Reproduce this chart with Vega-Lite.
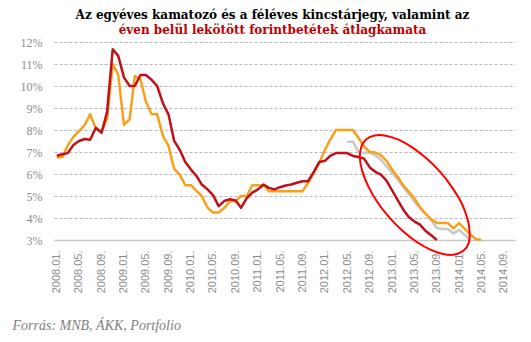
{
  "$schema": "https://vega.github.io/schema/vega-lite/v6.json",
  "width": 461,
  "height": 198,
  "autosize": "none",
  "padding": {"left": 54, "top": 42, "right": 16, "bottom": 102},
  "background": "white",
  "title": {
    "text": "Az egyéves kamatozó és a féléves kincstárjegy, valamint az",
    "subtitle": "éven belül lekötött forintbetétek  átlagkamata",
    "font": "DejaVu Serif",
    "fontSize": 12,
    "fontWeight": "bold",
    "color": "#000000",
    "subtitleFont": "DejaVu Serif",
    "subtitleFontSize": 12,
    "subtitleFontWeight": "bold",
    "subtitleColor": "#c00000",
    "subtitlePadding": 3,
    "anchor": "middle",
    "frame": "group",
    "dx": -12,
    "offset": -1
  },
  "config": {"view": {"stroke": null}},
  "datasets": {
    "rates": [
      {"date": "2012-05-01", "series": "féléves", "value": 7.47},
      {"date": "2012-06-01", "series": "féléves", "value": 7.47},
      {"date": "2012-07-01", "series": "féléves", "value": 7.0},
      {"date": "2012-08-01", "series": "féléves", "value": 6.97},
      {"date": "2012-09-01", "series": "féléves", "value": 6.97},
      {"date": "2012-10-01", "series": "féléves", "value": 6.85},
      {"date": "2012-11-01", "series": "féléves", "value": 6.65},
      {"date": "2012-12-01", "series": "féléves", "value": 6.35},
      {"date": "2013-01-01", "series": "féléves", "value": 6.05},
      {"date": "2013-02-01", "series": "féléves", "value": 5.75},
      {"date": "2013-03-01", "series": "féléves", "value": 5.42},
      {"date": "2013-04-01", "series": "féléves", "value": 5.1},
      {"date": "2013-05-01", "series": "féléves", "value": 4.75},
      {"date": "2013-06-01", "series": "féléves", "value": 4.45},
      {"date": "2013-07-01", "series": "féléves", "value": 4.2},
      {"date": "2013-08-01", "series": "féléves", "value": 3.9},
      {"date": "2013-09-01", "series": "féléves", "value": 3.55},
      {"date": "2013-10-01", "series": "féléves", "value": 3.5},
      {"date": "2013-11-01", "series": "féléves", "value": 3.5},
      {"date": "2013-12-01", "series": "féléves", "value": 3.3},
      {"date": "2014-01-01", "series": "féléves", "value": 3.46},
      {"date": "2014-02-01", "series": "féléves", "value": 3.22},
      {"date": "2014-03-01", "series": "féléves", "value": 3.0},
      {"date": "2008-01-01", "series": "egyéves", "value": 6.75},
      {"date": "2008-02-01", "series": "egyéves", "value": 6.77},
      {"date": "2008-03-01", "series": "egyéves", "value": 7.3},
      {"date": "2008-04-01", "series": "egyéves", "value": 7.7},
      {"date": "2008-05-01", "series": "egyéves", "value": 7.95},
      {"date": "2008-06-01", "series": "egyéves", "value": 8.22},
      {"date": "2008-07-01", "series": "egyéves", "value": 8.72},
      {"date": "2008-08-01", "series": "egyéves", "value": 8.05},
      {"date": "2008-09-01", "series": "egyéves", "value": 7.93},
      {"date": "2008-10-01", "series": "egyéves", "value": 8.5},
      {"date": "2008-11-01", "series": "egyéves", "value": 11.0},
      {"date": "2008-12-01", "series": "egyéves", "value": 10.5},
      {"date": "2009-01-01", "series": "egyéves", "value": 8.23},
      {"date": "2009-02-01", "series": "egyéves", "value": 8.48},
      {"date": "2009-03-01", "series": "egyéves", "value": 10.45},
      {"date": "2009-04-01", "series": "egyéves", "value": 10.3},
      {"date": "2009-05-01", "series": "egyéves", "value": 9.27},
      {"date": "2009-06-01", "series": "egyéves", "value": 8.72},
      {"date": "2009-07-01", "series": "egyéves", "value": 8.72},
      {"date": "2009-08-01", "series": "egyéves", "value": 7.73},
      {"date": "2009-09-01", "series": "egyéves", "value": 7.28},
      {"date": "2009-10-01", "series": "egyéves", "value": 6.24},
      {"date": "2009-11-01", "series": "egyéves", "value": 5.97},
      {"date": "2009-12-01", "series": "egyéves", "value": 5.49},
      {"date": "2010-01-01", "series": "egyéves", "value": 5.49},
      {"date": "2010-02-01", "series": "egyéves", "value": 5.22},
      {"date": "2010-03-01", "series": "egyéves", "value": 5.0},
      {"date": "2010-04-01", "series": "egyéves", "value": 4.47},
      {"date": "2010-05-01", "series": "egyéves", "value": 4.25},
      {"date": "2010-06-01", "series": "egyéves", "value": 4.25},
      {"date": "2010-07-01", "series": "egyéves", "value": 4.45},
      {"date": "2010-08-01", "series": "egyéves", "value": 4.75},
      {"date": "2010-09-01", "series": "egyéves", "value": 4.77},
      {"date": "2010-10-01", "series": "egyéves", "value": 5.0},
      {"date": "2010-11-01", "series": "egyéves", "value": 5.0},
      {"date": "2010-12-01", "series": "egyéves", "value": 5.49},
      {"date": "2011-01-01", "series": "egyéves", "value": 5.49},
      {"date": "2011-02-01", "series": "egyéves", "value": 5.49},
      {"date": "2011-03-01", "series": "egyéves", "value": 5.22},
      {"date": "2011-04-01", "series": "egyéves", "value": 5.22},
      {"date": "2011-05-01", "series": "egyéves", "value": 5.22},
      {"date": "2011-06-01", "series": "egyéves", "value": 5.22},
      {"date": "2011-07-01", "series": "egyéves", "value": 5.22},
      {"date": "2011-08-01", "series": "egyéves", "value": 5.22},
      {"date": "2011-09-01", "series": "egyéves", "value": 5.22},
      {"date": "2011-10-01", "series": "egyéves", "value": 5.6},
      {"date": "2011-11-01", "series": "egyéves", "value": 6.05},
      {"date": "2011-12-01", "series": "egyéves", "value": 6.5},
      {"date": "2012-01-01", "series": "egyéves", "value": 7.1},
      {"date": "2012-02-01", "series": "egyéves", "value": 7.6},
      {"date": "2012-03-01", "series": "egyéves", "value": 8.0},
      {"date": "2012-04-01", "series": "egyéves", "value": 8.0},
      {"date": "2012-05-01", "series": "egyéves", "value": 8.0},
      {"date": "2012-06-01", "series": "egyéves", "value": 8.0},
      {"date": "2012-07-01", "series": "egyéves", "value": 7.65},
      {"date": "2012-08-01", "series": "egyéves", "value": 7.25},
      {"date": "2012-09-01", "series": "egyéves", "value": 7.0},
      {"date": "2012-10-01", "series": "egyéves", "value": 6.98},
      {"date": "2012-11-01", "series": "egyéves", "value": 6.85},
      {"date": "2012-12-01", "series": "egyéves", "value": 6.6},
      {"date": "2013-01-01", "series": "egyéves", "value": 6.2},
      {"date": "2013-02-01", "series": "egyéves", "value": 5.85},
      {"date": "2013-03-01", "series": "egyéves", "value": 5.5},
      {"date": "2013-04-01", "series": "egyéves", "value": 5.2},
      {"date": "2013-05-01", "series": "egyéves", "value": 4.9},
      {"date": "2013-06-01", "series": "egyéves", "value": 4.5},
      {"date": "2013-07-01", "series": "egyéves", "value": 4.2},
      {"date": "2013-08-01", "series": "egyéves", "value": 3.95},
      {"date": "2013-09-01", "series": "egyéves", "value": 3.77},
      {"date": "2013-10-01", "series": "egyéves", "value": 3.77},
      {"date": "2013-11-01", "series": "egyéves", "value": 3.77},
      {"date": "2013-12-01", "series": "egyéves", "value": 3.53},
      {"date": "2014-01-01", "series": "egyéves", "value": 3.77},
      {"date": "2014-02-01", "series": "egyéves", "value": 3.5},
      {"date": "2014-03-01", "series": "egyéves", "value": 3.25},
      {"date": "2014-04-01", "series": "egyéves", "value": 3.05},
      {"date": "2014-05-01", "series": "egyéves", "value": 3.0},
      {"date": "2008-01-01", "series": "forintbetétek", "value": 6.83},
      {"date": "2008-02-01", "series": "forintbetétek", "value": 6.9},
      {"date": "2008-03-01", "series": "forintbetétek", "value": 6.95},
      {"date": "2008-04-01", "series": "forintbetétek", "value": 7.32},
      {"date": "2008-05-01", "series": "forintbetétek", "value": 7.5},
      {"date": "2008-06-01", "series": "forintbetétek", "value": 7.59},
      {"date": "2008-07-01", "series": "forintbetétek", "value": 7.56},
      {"date": "2008-08-01", "series": "forintbetétek", "value": 8.1},
      {"date": "2008-09-01", "series": "forintbetétek", "value": 7.87},
      {"date": "2008-10-01", "series": "forintbetétek", "value": 8.82},
      {"date": "2008-11-01", "series": "forintbetétek", "value": 11.67},
      {"date": "2008-12-01", "series": "forintbetétek", "value": 11.37},
      {"date": "2009-01-01", "series": "forintbetétek", "value": 10.39},
      {"date": "2009-02-01", "series": "forintbetétek", "value": 10.0},
      {"date": "2009-03-01", "series": "forintbetétek", "value": 10.0},
      {"date": "2009-04-01", "series": "forintbetétek", "value": 10.5},
      {"date": "2009-05-01", "series": "forintbetétek", "value": 10.5},
      {"date": "2009-06-01", "series": "forintbetétek", "value": 10.28},
      {"date": "2009-07-01", "series": "forintbetétek", "value": 10.0},
      {"date": "2009-08-01", "series": "forintbetétek", "value": 9.22},
      {"date": "2009-09-01", "series": "forintbetétek", "value": 8.7},
      {"date": "2009-10-01", "series": "forintbetétek", "value": 7.52},
      {"date": "2009-11-01", "series": "forintbetétek", "value": 7.1},
      {"date": "2009-12-01", "series": "forintbetétek", "value": 6.55},
      {"date": "2010-01-01", "series": "forintbetétek", "value": 6.2},
      {"date": "2010-02-01", "series": "forintbetétek", "value": 5.9},
      {"date": "2010-03-01", "series": "forintbetétek", "value": 5.52},
      {"date": "2010-04-01", "series": "forintbetétek", "value": 5.3},
      {"date": "2010-05-01", "series": "forintbetétek", "value": 5.04},
      {"date": "2010-06-01", "series": "forintbetétek", "value": 4.54},
      {"date": "2010-07-01", "series": "forintbetétek", "value": 4.77},
      {"date": "2010-08-01", "series": "forintbetétek", "value": 4.85},
      {"date": "2010-09-01", "series": "forintbetétek", "value": 4.8},
      {"date": "2010-10-01", "series": "forintbetétek", "value": 4.47},
      {"date": "2010-11-01", "series": "forintbetétek", "value": 4.9},
      {"date": "2010-12-01", "series": "forintbetétek", "value": 5.15},
      {"date": "2011-01-01", "series": "forintbetétek", "value": 5.3},
      {"date": "2011-02-01", "series": "forintbetétek", "value": 5.52},
      {"date": "2011-03-01", "series": "forintbetétek", "value": 5.37},
      {"date": "2011-04-01", "series": "forintbetétek", "value": 5.3},
      {"date": "2011-05-01", "series": "forintbetétek", "value": 5.4},
      {"date": "2011-06-01", "series": "forintbetétek", "value": 5.48},
      {"date": "2011-07-01", "series": "forintbetétek", "value": 5.52},
      {"date": "2011-08-01", "series": "forintbetétek", "value": 5.6},
      {"date": "2011-09-01", "series": "forintbetétek", "value": 5.67},
      {"date": "2011-10-01", "series": "forintbetétek", "value": 5.67},
      {"date": "2011-11-01", "series": "forintbetétek", "value": 6.1},
      {"date": "2011-12-01", "series": "forintbetétek", "value": 6.55},
      {"date": "2012-01-01", "series": "forintbetétek", "value": 6.6},
      {"date": "2012-02-01", "series": "forintbetétek", "value": 6.84},
      {"date": "2012-03-01", "series": "forintbetétek", "value": 6.95},
      {"date": "2012-04-01", "series": "forintbetétek", "value": 6.95},
      {"date": "2012-05-01", "series": "forintbetétek", "value": 6.95},
      {"date": "2012-06-01", "series": "forintbetétek", "value": 6.82},
      {"date": "2012-07-01", "series": "forintbetétek", "value": 6.77},
      {"date": "2012-08-01", "series": "forintbetétek", "value": 6.7},
      {"date": "2012-09-01", "series": "forintbetétek", "value": 6.3},
      {"date": "2012-10-01", "series": "forintbetétek", "value": 6.1},
      {"date": "2012-11-01", "series": "forintbetétek", "value": 5.97},
      {"date": "2012-12-01", "series": "forintbetétek", "value": 5.7},
      {"date": "2013-01-01", "series": "forintbetétek", "value": 5.25},
      {"date": "2013-02-01", "series": "forintbetétek", "value": 4.8},
      {"date": "2013-03-01", "series": "forintbetétek", "value": 4.4},
      {"date": "2013-04-01", "series": "forintbetétek", "value": 4.05},
      {"date": "2013-05-01", "series": "forintbetétek", "value": 3.85},
      {"date": "2013-06-01", "series": "forintbetétek", "value": 3.7},
      {"date": "2013-07-01", "series": "forintbetétek", "value": 3.42},
      {"date": "2013-08-01", "series": "forintbetétek", "value": 3.22},
      {"date": "2013-09-01", "series": "forintbetétek", "value": 3.0}
    ],
    "ellipse": [
      {"i": 0, "date": "2014-01-25", "value": 2.52},
      {"i": 1, "date": "2013-12-10", "value": 2.34},
      {"i": 2, "date": "2013-10-11", "value": 2.35},
      {"i": 3, "date": "2013-07-31", "value": 2.55},
      {"i": 4, "date": "2013-05-15", "value": 2.91},
      {"i": 5, "date": "2013-02-26", "value": 3.42},
      {"i": 6, "date": "2012-12-15", "value": 4.04},
      {"i": 7, "date": "2012-10-12", "value": 4.73},
      {"i": 8, "date": "2012-08-24", "value": 5.44},
      {"i": 9, "date": "2012-07-22", "value": 6.13},
      {"i": 10, "date": "2012-07-09", "value": 6.74},
      {"i": 11, "date": "2012-07-17", "value": 7.23},
      {"i": 12, "date": "2012-08-13", "value": 7.58},
      {"i": 13, "date": "2012-09-28", "value": 7.75},
      {"i": 14, "date": "2012-11-27", "value": 7.74},
      {"i": 15, "date": "2013-02-07", "value": 7.55},
      {"i": 16, "date": "2013-04-24", "value": 7.19},
      {"i": 17, "date": "2013-07-11", "value": 6.68},
      {"i": 18, "date": "2013-09-23", "value": 6.06},
      {"i": 19, "date": "2013-11-26", "value": 5.36},
      {"i": 20, "date": "2014-01-15", "value": 4.66},
      {"i": 21, "date": "2014-02-15", "value": 3.97},
      {"i": 22, "date": "2014-02-27", "value": 3.36},
      {"i": 23, "date": "2014-02-22", "value": 2.86}
    ]
  },
  "encoding": {
    "y": {
      "field": "value",
      "type": "quantitative",
      "scale": {"domain": [3, 12], "zero": false, "nice": false},
      "axis": {
        "values": [3, 4, 5, 6, 7, 8, 9, 10, 11, 12],
        "labelExpr": "datum.value + '%'",
        "labelFont": "Liberation Serif",
        "labelFontSize": 12,
        "labelColor": "#8c8c8c",
        "labelPadding": 12,
        "labelOverlap": false,
        "labelFlush": false,
        "ticks": false,
        "domain": false,
        "grid": true,
        "gridColor": "#b8b8b8",
        "gridDash": [3, 2],
        "gridWidth": 1,
        "gridOpacity": 1,
        "title": null
      }
    }
  },
  "layer": [
    {
      "data": {"name": "rates"},
      "mark": {"type": "line", "strokeWidth": 2.5, "strokeJoin": "round"},
      "encoding": {
        "x": {
          "field": "date",
          "type": "temporal",
          "scale": {"domain": [{"year": 2007, "month": 12, "date": 17}, {"year": 2014, "month": 11, "date": 1}]},
          "axis": {
            "format": "%Y.%m.",
            "tickCount": {"interval": "month", "step": 4},
            "labelAngle": 270,
            "labelFont": "Liberation Sans",
            "labelFontSize": 11,
            "labelColor": "#8c8c8c",
            "labelPadding": 10,
            "labelOverlap": false,
            "labelFlush": false,
            "ticks": false,
            "grid": false,
            "domain": true,
            "domainColor": "#c8c8c8",
            "domainWidth": 1.5,
            "title": "Forrás: MNB, ÁKK, Portfolio",
            "titleFont": "Liberation Serif",
            "titleFontStyle": "italic",
            "titleFontWeight": "normal",
            "titleFontSize": 14,
            "titleColor": "#7f7f7f",
            "titleAnchor": "start",
            "titleAlign": "left",
            "titleBaseline": "alphabetic",
            "titleX": -42,
            "titleY": 89
          }
        },
        "color": {
          "field": "series",
          "type": "nominal",
          "scale": {"domain": ["féléves", "egyéves", "forintbetétek"], "range": ["#c8c8c8", "#f9a01b", "#c0101a"]},
          "legend": null
        }
      }
    },
    {
      "data": {"name": "ellipse"},
      "mark": {"type": "line", "color": "#ff0000", "strokeWidth": 2, "interpolate": "cardinal-closed"},
      "encoding": {
        "x": {"field": "date", "type": "temporal"},
        "order": {"field": "i", "type": "quantitative"}
      }
    }
  ]
}
